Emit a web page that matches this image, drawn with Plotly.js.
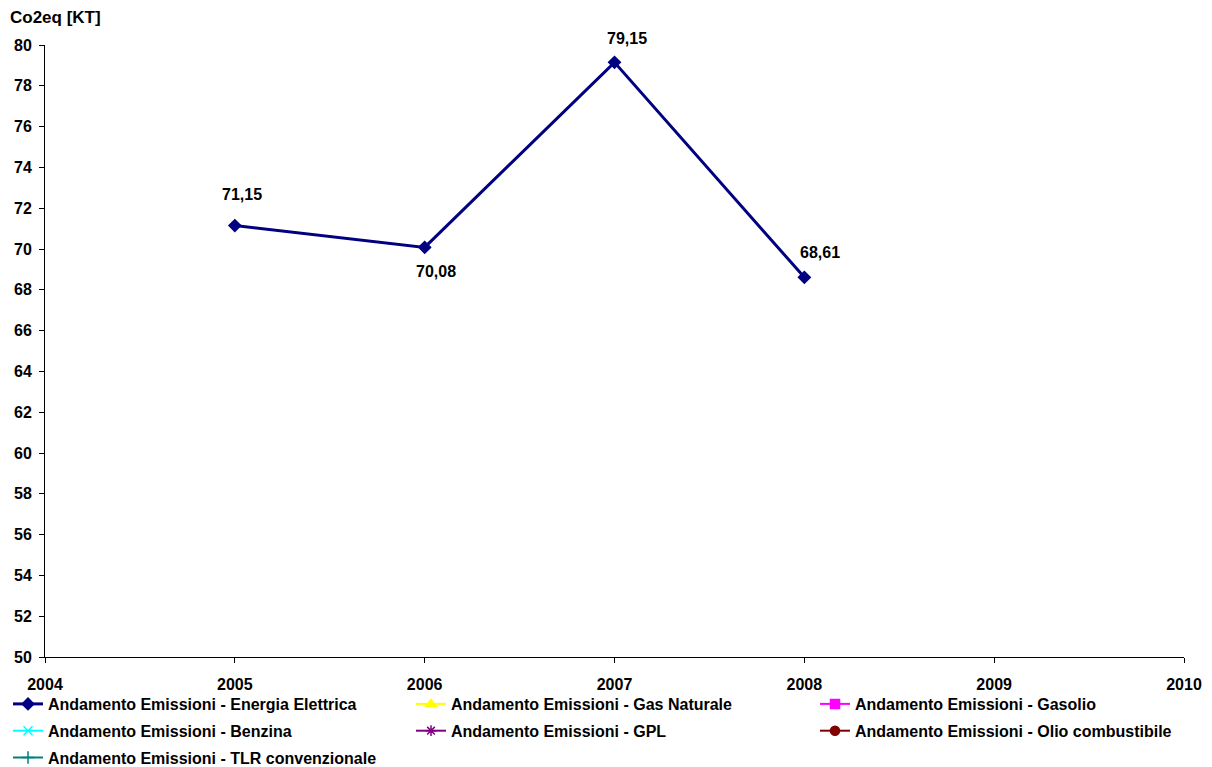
<!DOCTYPE html>
<html>
<head>
<meta charset="utf-8">
<script src="https://cdn.plot.ly/plotly-3.0.1.min.js"></script>
<style>
  html, body { margin: 0; padding: 0; background: #ffffff; }
  #chart { width: 1212px; height: 767px; }
</style>
</head>
<body>
<div id="chart"></div>
<script>
// Emission trend (CO2eq, kilotonnes) by year
const years = [2005, 2006, 2007, 2008];
const energiaElettrica = [71.15, 70.08, 79.15, 68.61];

const seriesNames = [
  'Andamento Emissioni - Energia Elettrica',
  'Andamento Emissioni - Gas Naturale',
  'Andamento Emissioni - Gasolio',
  'Andamento Emissioni - Benzina',
  'Andamento Emissioni - GPL',
  'Andamento Emissioni - Olio combustibile',
  'Andamento Emissioni - TLR convenzionale'
];
const xTicks = [2004, 2005, 2006, 2007, 2008, 2009, 2010];
const yTicks = [50, 52, 54, 56, 58, 60, 62, 64, 66, 68, 70, 72, 74, 76, 78, 80];

// Styling of the series and of the value labels
const seriesColors = ['#000080', '#ffff00', '#ff00ff', '#00ffff', '#800080', '#800000', '#008080'];
const seriesSymbols = ['diamond', 'triangle-up', 'square', 'x-thin-open', 'asterisk-open', 'circle', 'cross-thin-open'];
const labelShift = [[7, 31], [11, -24], [12, 24], [16, 25]];

// Legend laid out in three columns, filled row by row
const legendIds = ['legend', 'legend2', 'legend3'];
const legendColumnX = [8, 411, 815];

const fontFamily = 'Liberation Sans, Arial, sans-serif';
const boldFont = (size) => ({ family: fontFamily, size: size, color: '#000000', weight: 'bold' });

const fmt = (v) => v.toFixed(2).replace('.', ',');

const traces = seriesNames.map((name, i) => {
  const base = {
    type: 'scatter',
    name: name,
    legend: legendIds[i % 3],
    legendgroup: 'g' + i,
    line: { color: seriesColors[i], width: i === 0 ? 3 : 2 },
    marker: { color: seriesColors[i], symbol: seriesSymbols[i], size: 9,
              line: { color: seriesColors[i], width: 1.5 } },
    hoverinfo: 'x+y+name'
  };
  if (i === 0) {
    return Object.assign(base, { x: years, y: energiaElettrica, mode: 'lines+markers' });
  }
  return Object.assign(base, { x: [null], y: [null], mode: 'lines+markers' });
});

const valueLabels = years.map((yr, i) => ({
  x: yr, y: energiaElettrica[i],
  xref: 'x', yref: 'y',
  text: fmt(energiaElettrica[i]),
  showarrow: false,
  xshift: labelShift[i][0],
  yshift: labelShift[i][1],
  font: boldFont(16)
}));

const axisCommon = {
  showgrid: false,
  zeroline: false,
  showline: true,
  linecolor: '#000000',
  linewidth: 1,
  ticks: 'outside',
  ticklen: 5,
  tickcolor: '#000000',
  tickfont: boldFont(16)
};

const layout = {
  width: 1212,
  height: 767,
  margin: { l: 45, r: 28, t: 45, b: 110, autoexpand: false },
  paper_bgcolor: '#ffffff',
  plot_bgcolor: '#ffffff',
  separators: ',.',
  font: boldFont(16),
  showlegend: true,
  xaxis: Object.assign({
    range: [2004, 2010],
    tickvals: xTicks,
    ticktext: xTicks.map(String),
    tickangle: 0,
    automargin: false,
    ticklabelstandoff: 8
  }, axisCommon),
  yaxis: Object.assign({
    range: [50, 80],
    tickvals: yTicks,
    automargin: false,
    ticklabelstandoff: 4
  }, axisCommon),
  annotations: [{
    text: 'Co2eq [KT]',
    xref: 'paper', yref: 'paper',
    x: 0, y: 1.0,
    xanchor: 'left', yanchor: 'bottom',
    xshift: -37,
    yshift: 16,
    showarrow: false,
    font: boldFont(17)
  }].concat(valueLabels)
};

legendIds.forEach((id, c) => {
  layout[id] = {
    orientation: 'v',
    xref: 'container',
    yref: 'container',
    x: legendColumnX[c] / 1212,
    xanchor: 'left',
    y: 1 - 687 / 767,
    yanchor: 'top',
    tracegroupgap: 3,
    traceorder: 'grouped',
    font: boldFont(16),
    bgcolor: 'rgba(0,0,0,0)'
  };
});

Plotly.newPlot('chart', traces, layout, { displayModeBar: false, staticPlot: true });
</script>
</body>
</html>
